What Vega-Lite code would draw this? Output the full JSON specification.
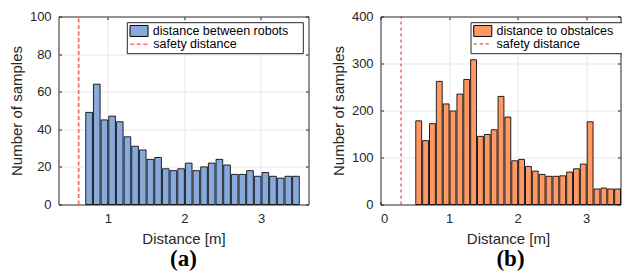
{
  "$schema": "https://vega.github.io/schema/vega-lite/v6.json",
  "padding": {"left": 8.5, "top": 9.5, "right": 0, "bottom": 0},
  "background": "white",
  "spacing": 72,
  "bounds": "flush",
  "resolve": {"scale": {"color": "independent", "strokeDash": "independent"}, "legend": {"color": "independent", "strokeDash": "independent"}},
  "config": {
    "font": "Liberation Sans",
    "view": {"stroke": "#262626", "strokeWidth": 1},
    "axis": {
      "labelFont": "Liberation Sans", "labelFontSize": 13, "labelColor": "#262626",
      "titleFont": "Liberation Sans", "titleFontSize": 15, "titleFontWeight": "normal", "titleColor": "#262626",
      "domain": false, "tickColor": "#262626", "tickSize": -3, "tickWidth": 1,
      "gridColor": "#e6e6e6", "gridWidth": 1
    },
    "legend": {
      "labelFont": "Liberation Sans", "labelFontSize": 12.5, "labelColor": "black", "labelLimit": 1000,
      "padding": 2.5, "rowPadding": 0, "symbolSize": 121, "symbolOffset": 3.5, "labelOffset": 7.5, "cornerRadius": 0,
      "orient": "none", "title": null
    }
  },
  "hconcat": [
    {
      "width": 250,
      "height": 188,
      "view": {"stroke": "#262626"},
      "title": {"text": "(a)", "orient": "bottom", "font": "Liberation Serif", "fontSize": 23, "fontWeight": "bold", "color": "black", "offset": 2, "anchor": "middle"},
      "data": {"values": [
        {"start": 0.7, "end": 0.8, "count": 49},
        {"start": 0.8, "end": 0.9, "count": 64},
        {"start": 0.9, "end": 1.0, "count": 45},
        {"start": 1.0, "end": 1.1, "count": 47},
        {"start": 1.1, "end": 1.2, "count": 44},
        {"start": 1.2, "end": 1.3, "count": 36},
        {"start": 1.3, "end": 1.4, "count": 31},
        {"start": 1.4, "end": 1.5, "count": 29},
        {"start": 1.5, "end": 1.6, "count": 24},
        {"start": 1.6, "end": 1.7, "count": 25},
        {"start": 1.7, "end": 1.8, "count": 19},
        {"start": 1.8, "end": 1.9, "count": 18},
        {"start": 1.9, "end": 2.0, "count": 19},
        {"start": 2.0, "end": 2.1, "count": 22},
        {"start": 2.1, "end": 2.2, "count": 18},
        {"start": 2.2, "end": 2.3, "count": 20},
        {"start": 2.3, "end": 2.4, "count": 22},
        {"start": 2.4, "end": 2.5, "count": 24},
        {"start": 2.5, "end": 2.6, "count": 21},
        {"start": 2.6, "end": 2.7, "count": 16},
        {"start": 2.7, "end": 2.8, "count": 16},
        {"start": 2.8, "end": 2.9, "count": 18},
        {"start": 2.9, "end": 3.0, "count": 15},
        {"start": 3.0, "end": 3.1, "count": 17},
        {"start": 3.1, "end": 3.2, "count": 15},
        {"start": 3.2, "end": 3.3, "count": 14},
        {"start": 3.3, "end": 3.4, "count": 15},
        {"start": 3.4, "end": 3.5, "count": 15}
      ]},
      "layer": [
        {
          "mark": {"type": "bar", "stroke": "#000000", "strokeWidth": 1, "strokeOpacity": 0.85},
          "encoding": {
            "x": {"field": "start", "type": "quantitative", "bin": "binned",
              "scale": {"domain": [0.357, 3.62], "nice": false, "zero": false},
              "axis": {"values": [1, 2, 3], "title": "Distance [m]", "grid": true, "labelPadding": 10.5, "titlePadding": 6}},
            "x2": {"field": "end"},
            "y": {"field": "count", "type": "quantitative",
              "scale": {"domain": [0, 100], "nice": false},
              "axis": {"values": [0, 20, 40, 60, 80, 100], "title": "Number of samples", "grid": true,
                "gridOpacity": {"condition": {"test": "datum.value === 0 || datum.value === 100", "value": 0}, "value": 1},
                "labelPadding": 10.4, "titleX": -41.7, "titleY": 94, "titleBaseline": "middle", "titleAlign": "center"}},
            "color": {"datum": "distance between robots",
              "scale": {"domain": ["distance between robots"], "range": ["#88a9dc"]},
              "legend": {"legendX": 68.3, "legendY": 5.7, "zindex": 2,
                "symbolType": "M-1.64,-1H1.64V1H-1.64Z", "symbolStrokeColor": "#000000", "symbolStrokeWidth": 1,
                "strokeColor": "transparent", "fillColor": "transparent"}}
          }
        },
        {
          "data": {"values": [{"safety": 0.62}]},
          "mark": {"type": "rule", "color": "#ff6a6a", "strokeWidth": 1.8},
          "encoding": {
            "x": {"field": "safety", "type": "quantitative",
              "axis": {"orient": "top", "values": [1, 2, 3], "labels": false, "title": null, "grid": false}},
            "y": {"datum": 0, "type": "quantitative",
              "axis": {"orient": "right", "values": [0, 20, 40, 60, 80, 100], "labels": false, "title": null, "grid": false}},
            "y2": {"datum": 100},
            "strokeDash": {"datum": "safety distance",
              "scale": {"domain": ["safety distance"], "range": [[4, 2.5]]},
              "legend": {"legendX": 68.3, "legendY": 5.7, "zindex": 1,
                "title": "⠀", "titleFontSize": 11, "titlePadding": 2, "titleFont": "DejaVu Sans",
                "labelExpr": "datum.label + '⠀⠀⠀ ⠀⠀⠀'",
                "symbolType": "M-1.64,0H1.64", "symbolStrokeColor": "#ff6a6a", "symbolStrokeWidth": 1.5, "symbolFillColor": "transparent",
                "strokeColor": "#262626", "fillColor": "white"}}
          }
        }
      ],
      "resolve": {"axis": {"x": "independent", "y": "independent"}}
    },
    {
      "width": 240,
      "height": 188,
      "view": {"stroke": "#262626"},
      "title": {"text": "(b)", "orient": "bottom", "font": "Liberation Serif", "fontSize": 23, "fontWeight": "bold", "color": "black", "offset": 2, "anchor": "middle", "dx": 10},
      "data": {"values": [
        {"start": 0.5, "end": 0.6, "count": 178},
        {"start": 0.6, "end": 0.7, "count": 136},
        {"start": 0.7, "end": 0.8, "count": 172},
        {"start": 0.8, "end": 0.9, "count": 262},
        {"start": 0.9, "end": 1.0, "count": 214},
        {"start": 1.0, "end": 1.1, "count": 199},
        {"start": 1.1, "end": 1.2, "count": 235},
        {"start": 1.2, "end": 1.3, "count": 266},
        {"start": 1.3, "end": 1.4, "count": 308},
        {"start": 1.4, "end": 1.5, "count": 145},
        {"start": 1.5, "end": 1.6, "count": 149},
        {"start": 1.6, "end": 1.7, "count": 159},
        {"start": 1.7, "end": 1.8, "count": 230},
        {"start": 1.8, "end": 1.9, "count": 186},
        {"start": 1.9, "end": 2.0, "count": 93},
        {"start": 2.0, "end": 2.1, "count": 96},
        {"start": 2.1, "end": 2.2, "count": 81},
        {"start": 2.2, "end": 2.3, "count": 71},
        {"start": 2.3, "end": 2.4, "count": 64},
        {"start": 2.4, "end": 2.5, "count": 60},
        {"start": 2.5, "end": 2.6, "count": 60},
        {"start": 2.6, "end": 2.7, "count": 61},
        {"start": 2.7, "end": 2.8, "count": 69},
        {"start": 2.8, "end": 2.9, "count": 76},
        {"start": 2.9, "end": 3.0, "count": 86},
        {"start": 3.0, "end": 3.1, "count": 176},
        {"start": 3.1, "end": 3.2, "count": 33},
        {"start": 3.2, "end": 3.3, "count": 35},
        {"start": 3.3, "end": 3.4, "count": 33},
        {"start": 3.4, "end": 3.5, "count": 33}
      ]},
      "layer": [
        {
          "mark": {"type": "bar", "stroke": "#000000", "strokeWidth": 1, "strokeOpacity": 0.85},
          "encoding": {
            "x": {"field": "start", "type": "quantitative", "bin": "binned",
              "scale": {"domain": [0, 3.5], "nice": false, "zero": false},
              "axis": {"values": [0, 1, 2, 3], "title": "Distance [m]", "grid": true,
                "gridOpacity": {"condition": {"test": "datum.value === 0", "value": 0}, "value": 1},
                "labelPadding": 10.5, "titlePadding": 6, "titleX": 127.5}},
            "x2": {"field": "end"},
            "y": {"field": "count", "type": "quantitative",
              "scale": {"domain": [0, 400], "nice": false},
              "axis": {"values": [0, 100, 200, 300, 400], "title": "Number of samples", "grid": true,
                "gridOpacity": {"condition": {"test": "datum.value === 0 || datum.value === 400", "value": 0}, "value": 1},
                "labelPadding": 10.4, "titleX": -41.7, "titleY": 94, "titleBaseline": "middle", "titleAlign": "center"}},
            "color": {"datum": "distance to obstalces",
              "scale": {"domain": ["distance to obstalces"], "range": ["#fe9966"]},
              "legend": {"legendX": 90, "legendY": 5.7, "zindex": 2,
                "symbolType": "M-1.64,-1H1.64V1H-1.64Z", "symbolStrokeColor": "#000000", "symbolStrokeWidth": 1,
                "strokeColor": "transparent", "fillColor": "transparent"}}
          }
        },
        {
          "data": {"values": [{"safety": 0.3}]},
          "mark": {"type": "rule", "color": "#ee1111", "strokeWidth": 1},
          "encoding": {
            "x": {"field": "safety", "type": "quantitative",
              "axis": {"orient": "top", "values": [0, 1, 2, 3], "labels": false, "title": null, "grid": false}},
            "y": {"datum": 0, "type": "quantitative",
              "axis": {"orient": "right", "values": [0, 100, 200, 300, 400], "labels": false, "title": null, "grid": false}},
            "y2": {"datum": 400},
            "strokeDash": {"datum": "safety distance",
              "scale": {"domain": ["safety distance"], "range": [[3, 3]]},
              "legend": {"legendX": 90, "legendY": 5.7, "zindex": 1,
                "title": "⠀", "titleFontSize": 11, "titlePadding": 2, "titleFont": "DejaVu Sans",
                "labelExpr": "datum.label + '⠀⠀⠀⠀'",
                "symbolType": "M-1.64,0H1.64", "symbolStrokeColor": "#ee1111", "symbolStrokeWidth": 1, "symbolFillColor": "transparent",
                "strokeColor": "#262626", "fillColor": "white"}}
          }
        }
      ],
      "resolve": {"axis": {"x": "independent", "y": "independent"}}
    }
  ]
}
